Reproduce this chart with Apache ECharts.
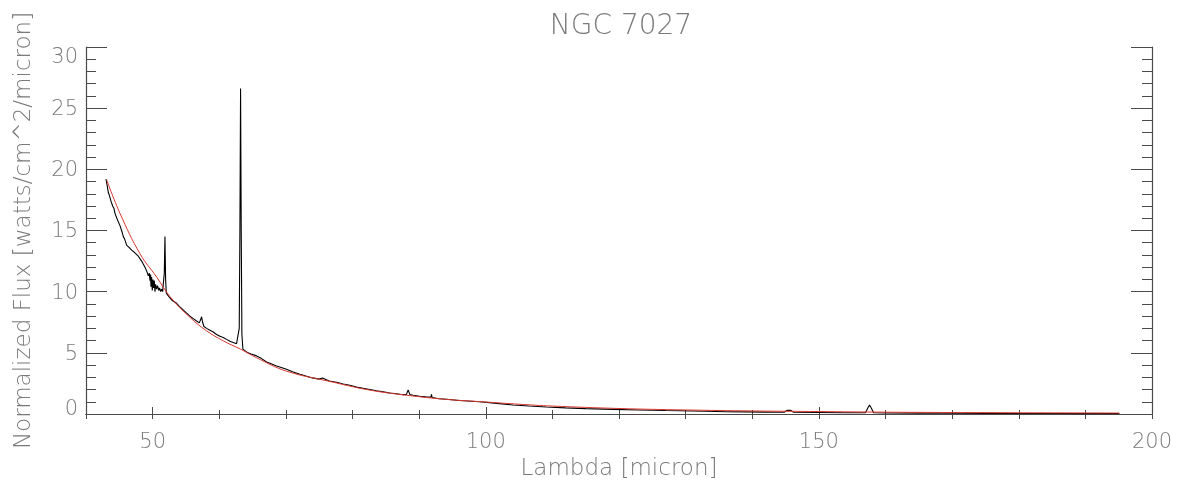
<!DOCTYPE html>
<html>
<head>
<meta charset="utf-8">
<script src="https://cdn.jsdelivr.net/npm/echarts@6/dist/echarts.min.js"></script>
<style>
html,body{margin:0;padding:0;background:#fff;}
#chart{width:1181px;height:480px;}
</style>
</head>
<body>
<div id="chart"></div>
<script>
// ---- Data ----
const chartTitle = 'NGC 7027';
const xAxisName = 'Lambda [micron]';
const yAxisName = 'Normalized Flux [watts/cm^2/micron]';
const xMajorTicks = [50, 100, 150, 200];

// Observed spectrum (black)
const specLambda = [
  43.0, 43.2, 43.35, 43.5, 43.6, 43.75, 44.0, 44.2, 44.35, 44.7, 45.1, 45.4, 45.6, 45.8, 46.1, 46.3,
  46.5, 46.85, 47.1, 47.3, 47.5, 47.85, 48.1, 48.35, 48.6, 48.85, 49.1, 49.35, 49.5, 49.6, 49.7, 49.75,
  49.85, 49.95, 50.05, 50.15, 50.25, 50.35, 50.45, 50.6, 50.75, 50.9, 51.05, 51.2, 51.35, 51.5, 51.65, 51.75,
  51.85, 51.95, 52.05, 52.3, 52.6, 52.9, 53.2, 53.6, 54.0, 54.5, 55.1, 55.6, 56.1, 56.6, 57.0, 57.2,
  57.35, 57.5, 57.7, 58.1, 58.6, 59.1, 59.6, 60.1, 60.6, 61.1, 61.6, 62.1, 62.6, 62.9, 63.0, 63.1,
  63.2, 63.3, 63.4, 63.55, 63.85, 64.3, 64.8, 65.6, 66.3, 66.6, 67.1, 67.3, 67.6, 68.5, 69.3, 70.1,
  71.0, 72.1, 73.0, 74.0, 75.0, 75.5, 75.7, 76.5, 77.6, 78.6, 79.6, 80.6, 81.6, 82.6, 83.6, 84.6,
  85.6, 86.6, 87.6, 88.1, 88.35, 88.6, 89.1, 90.1, 91.0, 91.8, 91.85, 91.95, 93.0, 94.1, 96.0, 99.1,
  102, 104.1, 106.5, 109.1, 112, 115, 119.1, 123, 127, 129.1, 133, 136, 139.1, 142, 144.8, 145.2,
  145.5, 145.8, 146.2, 150, 154, 157.0, 157.3, 157.6, 157.9, 158.2, 160, 165, 170, 175, 180, 185,
  190, 195.1
];
const specFlux = [
  19.2, 18.6, 18.1, 17.9, 18.0, 17.4, 17.0, 16.8, 16.4, 15.9, 15.4, 14.9, 14.5, 14.3, 13.8, 13.9,
  13.6, 13.4, 13.35, 13.2, 13.1, 12.9, 12.75, 12.5, 12.35, 12.0, 11.7, 11.3, 11.5, 10.9, 11.4, 10.4,
  11.2, 10.1, 11.0, 10.3, 10.9, 10.0, 10.6, 10.2, 10.5, 10.1, 10.3, 10.0, 10.2, 10.0, 10.1, 11.5,
  14.5, 11.0, 9.9, 9.7, 9.5, 9.3, 9.3, 9.05, 8.8, 8.55, 8.25, 8.0, 7.8, 7.6, 7.45, 7.7,
  7.95, 7.5, 7.15, 7.0, 6.85, 6.7, 6.5, 6.35, 6.25, 6.1, 5.95, 5.85, 5.75, 5.7, 7.0, 15.0,
  26.6, 15.0, 6.5, 5.3, 5.15, 5.0, 4.9, 4.75, 4.55, 4.45, 4.25, 4.1, 4.15, 3.95, 3.8, 3.65,
  3.45, 3.25, 3.1, 2.95, 2.85, 2.95, 2.8, 2.7, 2.6, 2.45, 2.35, 2.2, 2.1, 2.0, 1.9, 1.82,
  1.72, 1.65, 1.58, 1.6, 1.97, 1.6, 1.53, 1.45, 1.4, 1.38, 1.6, 1.35, 1.25, 1.2, 1.1, 1.0,
  0.85, 0.74, 0.65, 0.57, 0.5, 0.44, 0.38, 0.33, 0.28, 0.26, 0.22, 0.19, 0.17, 0.15, 0.14, 0.3,
  0.43, 0.3, 0.14, 0.12, 0.1, 0.1, 0.45, 0.74, 0.45, 0.1, 0.08, 0.07, 0.06, 0.05, 0.04, 0.04,
  0.03, 0.03
];

// Model fit (red)
const modelLambda = [43.1, 45.1, 48.1, 50.6, 52.6, 55.6, 58.1, 60.6, 63.2, 65.6, 70.1, 77.1, 82.1, 87.1,
  94, 100, 105, 110, 120, 130, 140, 150, 160, 170, 180, 195.1];
const modelFlux = [19.15, 16.4, 13.1, 11.2, 9.6, 7.9, 6.8, 5.98, 5.3, 4.6, 3.5, 2.6, 2.0, 1.6,
  1.2, 0.98, 0.8, 0.65, 0.45, 0.33, 0.25, 0.2, 0.15, 0.12, 0.1, 0.08];

// ---- Build chart ----
const FONT = 'DejaVu Sans';
const TXT = '#7a7a7a';
const AX = '#4a4a4a';
const gridBox = { left: 86, right: 29, top: 47, bottom: 66 };
const Y_MIN = 0, Y_MAX = 30;

const spec = specLambda.map((x, i) => [x, specFlux[i]]);
const model = modelLambda.map((x, i) => [x, modelFlux[i]]);

const lblFont = { fontFamily: FONT, fontWeight: 200, fontSize: 21, color: TXT };

const chart = echarts.init(document.getElementById('chart'), null, { renderer: 'canvas' });
chart.setOption({
  animation: false,
  backgroundColor: '#fff',
  title: {
    text: chartTitle, left: 616, top: 8, textAlign: 'center',
    textStyle: { fontFamily: FONT, fontWeight: 200, fontSize: 28, color: TXT }
  },
  grid: [
    Object.assign({ containLabel: false, outerBoundsMode: 'none' }, gridBox),
    Object.assign({ containLabel: false, outerBoundsMode: 'none' }, gridBox)
  ],
  xAxis: [
    {
      gridIndex: 0, type: 'value', position: 'bottom', min: 40, max: 200, interval: 10,
      axisLine: { show: true, lineStyle: { color: AX, width: 1.2 } },
      axisTick: { show: true, inside: true, length: 4, lineStyle: { color: AX } },
      splitLine: { show: false },
      axisLabel: Object.assign({
        margin: 18,
        formatter: v => (v % 50 === 0 ? String(v) : '')
      }, lblFont),
      name: xAxisName, nameLocation: 'middle', nameGap: 43,
      nameTextStyle: { color: TXT, fontFamily: FONT, fontWeight: 200, fontSize: 23 }
    },
    {
      gridIndex: 0, type: 'value', position: 'top', min: 40, max: 200, interval: 10,
      axisLine: { show: true, lineStyle: { color: AX, width: 1.2 } },
      axisTick: { show: true, inside: true, length: 5, lineStyle: { color: AX } },
      splitLine: { show: false },
      axisLabel: { show: false }
    },
    {
      gridIndex: 1, type: 'value', position: 'bottom', min: 40, max: 200,
      axisLine: { show: false },
      axisTick: { show: true, inside: true, length: 7, customValues: xMajorTicks, lineStyle: { color: AX } },
      splitLine: { show: false },
      axisLabel: { show: false }
    }
  ],
  yAxis: [
    {
      gridIndex: 0, type: 'value', position: 'left', min: Y_MIN, max: Y_MAX, interval: 5,
      axisLine: { show: true, lineStyle: { color: AX, width: 1.2 } },
      axisTick: { show: true, inside: true, length: 21, lineStyle: { color: AX } },
      minorTick: { show: true, splitNumber: 5, length: 10, lineStyle: { color: AX } },
      splitLine: { show: false },
      axisLabel: Object.assign({
        margin: 8,
        formatter: v => (v === Y_MIN ? '{mn|' + v + '}' : v === Y_MAX ? '{mx|' + v + '}' : '{n|' + v + '}'),
        rich: {
          n: Object.assign({ padding: [3, 0, 0, 0] }, lblFont),
          mn: Object.assign({ padding: [0, 0, 9, 0] }, lblFont),
          mx: Object.assign({ padding: [21, 0, 0, 0] }, lblFont)
        }
      }, lblFont),
      name: yAxisName, nameLocation: 'middle', nameGap: 50, nameRotate: 90,
      nameTextStyle: { color: TXT, fontFamily: FONT, fontWeight: 200, fontSize: 23 }
    },
    {
      gridIndex: 0, type: 'value', position: 'right', min: Y_MIN, max: Y_MAX, interval: 5,
      axisLine: { show: true, lineStyle: { color: AX, width: 1.2 } },
      axisTick: { show: true, inside: true, length: 21, lineStyle: { color: AX } },
      minorTick: { show: true, splitNumber: 5, length: 10, lineStyle: { color: AX } },
      splitLine: { show: false },
      axisLabel: { show: false }
    },
    {
      gridIndex: 1, type: 'value', min: Y_MIN, max: Y_MAX, show: false
    }
  ],
  series: [
    {
      type: 'line', xAxisIndex: 0, yAxisIndex: 0, data: spec, showSymbol: false,
      lineStyle: { color: '#000', width: 1.1 }, smooth: false
    },
    {
      type: 'line', xAxisIndex: 0, yAxisIndex: 0, data: model, showSymbol: false,
      lineStyle: { color: '#d9372e', width: 1 }, smooth: 0.4
    }
  ]
});
</script>
</body>
</html>
